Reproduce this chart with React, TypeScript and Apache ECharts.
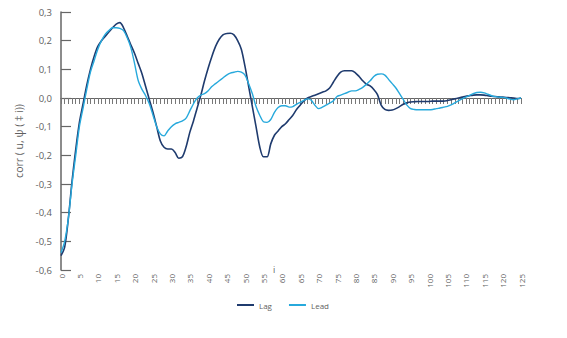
import React, { useEffect, useRef } from "react";
import * as echarts from "echarts";

const lags: string[] = Array.from({ length: 126 }, (_, i) => String(i));

const lagValues: number[] = [
  -0.55, -0.52, -0.42, -0.29, -0.18, -0.085, -0.02, 0.045, 0.1, 0.145,
  0.18, 0.2, 0.215, 0.23, 0.245, 0.258, 0.263, 0.245, 0.215, 0.185,
  0.155, 0.12, 0.085, 0.04, -0.005, -0.05, -0.1, -0.15, -0.172, -0.178,
  -0.178, -0.19, -0.21, -0.205, -0.17, -0.12, -0.08, -0.035, 0.01, 0.06,
  0.105, 0.145, 0.18, 0.205, 0.22, 0.225, 0.226, 0.22, 0.2, 0.17,
  0.11, 0.04, -0.03, -0.1, -0.17, -0.205, -0.205, -0.16, -0.13, -0.115,
  -0.1, -0.09, -0.075, -0.06, -0.04, -0.025, -0.01, 0.0, 0.005, 0.01,
  0.015, 0.02, 0.025, 0.035, 0.055, 0.075, 0.09, 0.095, 0.095, 0.095,
  0.088, 0.075, 0.06, 0.048, 0.042, 0.03, 0.012, -0.025, -0.04, -0.043,
  -0.042, -0.037, -0.03, -0.022, -0.017, -0.014, -0.013, -0.012, -0.012, -0.012,
  -0.012, -0.011, -0.011, -0.011, -0.011, -0.009, -0.006, -0.003, 0.0, 0.003,
  0.006, 0.008, 0.01, 0.011, 0.011, 0.01, 0.008, 0.006, 0.005, 0.004,
  0.003, 0.002, 0.001, 0.0, -0.002, 0.0,
];

const leadValues: number[] = [
  -0.54, -0.5, -0.42, -0.3, -0.2, -0.1, -0.035, 0.03, 0.09, 0.13,
  0.17, 0.2, 0.222, 0.235, 0.245, 0.245, 0.243, 0.235, 0.21, 0.175,
  0.12, 0.06, 0.03, 0.008, -0.02, -0.06, -0.1, -0.125, -0.132, -0.115,
  -0.1, -0.09, -0.085, -0.08, -0.07, -0.045, -0.02, 0.0, 0.01, 0.015,
  0.025, 0.04, 0.05, 0.06, 0.07, 0.08, 0.087, 0.09, 0.093, 0.09,
  0.08, 0.05, 0.015, -0.03, -0.06, -0.083, -0.085, -0.075, -0.05, -0.033,
  -0.027, -0.027, -0.032, -0.03, -0.022, -0.015, -0.008, -0.003, -0.008, -0.025,
  -0.037, -0.032, -0.025, -0.018, -0.01, 0.005, 0.01, 0.015, 0.02, 0.025,
  0.025, 0.03, 0.037, 0.048, 0.06, 0.075, 0.083, 0.084, 0.08, 0.065,
  0.05, 0.035, 0.015, -0.005, -0.025, -0.037, -0.04, -0.041, -0.041, -0.041,
  -0.041, -0.04, -0.037, -0.035, -0.032, -0.029, -0.024, -0.017, -0.01, -0.003,
  0.003, 0.009, 0.015, 0.019, 0.02, 0.018, 0.013, 0.008, 0.005, 0.003,
  0.002, 0.0, -0.004, -0.006, -0.003, 0.0,
];

const seriesNames: string[] = ["Lag", "Lead"];
const yAxisTitle = "corr ( u, ψ ( ‡ i))";
const xAxisTitle = "i";

const FONT = "'Open Sans', 'Noto Sans', sans-serif";
const GRAY = "#5f5f5f";

export default function App() {
  const ref = useRef<HTMLDivElement>(null);

  useEffect(() => {
    if (!ref.current) return;
    const chart = echarts.init(ref.current, undefined, { renderer: "svg" });
    chart.setOption({
      animation: false,
      backgroundColor: "#ffffff",
      textStyle: { fontFamily: FONT },
      grid: { left: 61, right: 46, top: 12, bottom: 68, containLabel: false },
      legend: {
        data: seriesNames,
        left: 232,
        top: 296,
        icon: "rect",
        itemWidth: 17,
        itemHeight: 2,
        itemGap: 17,
        textStyle: { color: GRAY, fontSize: 8, fontFamily: FONT },
      },
      graphic: [
        {
          type: "text",
          left: 273,
          top: 265,
          style: { text: xAxisTitle, fill: GRAY, fontSize: 9, fontFamily: FONT },
        },
      ],
      xAxis: {
        type: "category",
        data: lags,
        boundaryGap: false,
        axisLine: { onZero: true, lineStyle: { color: "#666", width: 1.2 } },
        axisTick: { interval: 0, length: 6, lineStyle: { color: "#777" } },
        axisLabel: {
          interval: 4,
          rotate: 90,
          color: GRAY,
          fontSize: 8,
          margin: 4,
          fontFamily: FONT,
        },
        splitLine: { show: false },
      },
      yAxis: {
        type: "value",
        min: -0.6,
        max: 0.3,
        interval: 0.1,
        name: yAxisTitle,
        nameLocation: "middle",
        nameGap: 37,
        nameTextStyle: { color: GRAY, fontSize: 10.5, fontFamily: FONT },
        axisLine: { show: true, lineStyle: { color: "#666", width: 1.5 } },
        axisTick: { show: true, inside: true, length: 10, lineStyle: { color: "#666", width: 1.2 } },
        axisLabel: {
          color: GRAY,
          fontSize: 9.5,
          margin: 9,
          fontFamily: FONT,
          formatter: (v: number) => v.toFixed(1).replace(".", ","),
        },
        splitLine: { show: false },
      },
      series: [
        {
          name: seriesNames[0],
          type: "line",
          data: lagValues,
          smooth: 0.3,
          showSymbol: false,
          lineStyle: { color: "#1f3b6e", width: 1.6 },
          itemStyle: { color: "#1f3b6e" },
        },
        {
          name: seriesNames[1],
          type: "line",
          data: leadValues,
          smooth: 0.3,
          showSymbol: false,
          lineStyle: { color: "#27a9dc", width: 1.4 },
          itemStyle: { color: "#27a9dc" },
        },
      ],
    });
    return () => chart.dispose();
  }, []);

  return <div ref={ref} style={{ width: 567, height: 338, margin: -8 }} />;
}
